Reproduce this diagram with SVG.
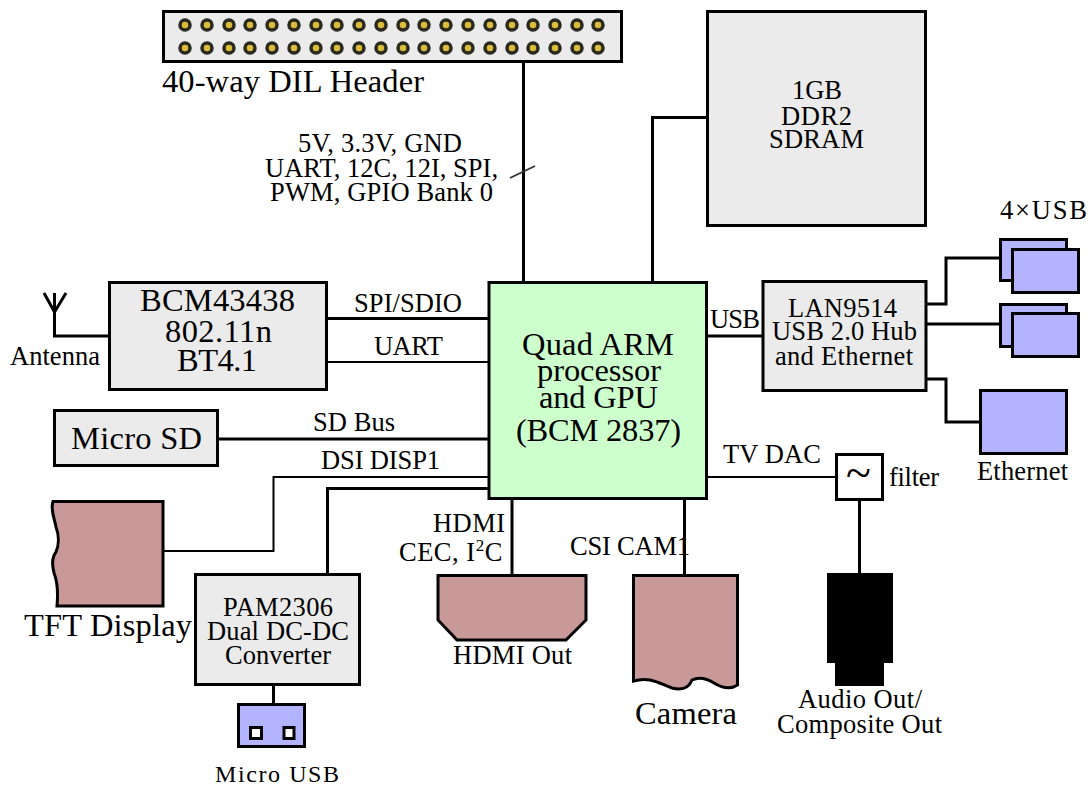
<svg xmlns="http://www.w3.org/2000/svg" width="1091" height="787" viewBox="0 0 1091 787">
<style>
text{font-family:"Liberation Serif","Times New Roman",serif;fill:#000;font-size:26.5px}
.b{font-size:32.5px}
.box{fill:#ebebeb;stroke:#000;stroke-width:3}
.blue{fill:#b3b3ff;stroke:#000;stroke-width:3}
.rose{fill:#c99898;stroke:#000;stroke-width:3}
.main{fill:#ccffcc;stroke:#000;stroke-width:3}
.wire{fill:none;stroke:#000;stroke-width:3}
.thin{fill:none;stroke:#000;stroke-width:2}
.pin{fill:#dcbc3c;stroke:#2a2a20;stroke-width:3.5}
</style>
<defs><circle id="pin" class="pin" r="5"/></defs>
<rect width="1091" height="787" fill="#fff"/>
<g id="connectors">
<path class="wire" d="M523.500 62V281"/>
<path d="M510 178L535 166" fill="none" stroke="#333" stroke-width="1.800"/>
<path class="wire" d="M652.500 281V117.500H708"/>
<path class="wire" d="M328 318.500H488"/>
<path class="thin" d="M328 362H488"/>
<path class="wire" d="M219 439H488"/>
<path class="thin" d="M164 551H273.500V477H488"/>
<path class="wire" d="M327.500 574V488.500H488"/>
<path class="wire" d="M708 336H762"/>
<path class="wire" d="M927 304H946V258H1000"/>
<path class="wire" d="M927 324H1000"/>
<path class="wire" d="M927 379H946V422H980"/>
<path class="thin" d="M708 477H836"/>
<path class="wire" d="M859.500 501V574"/>
<path class="wire" d="M512 500V574"/>
<path class="wire" d="M684.500 500V574"/>
<path class="wire" d="M273.500 686V704"/>
<path class="wire" d="M108 336H54.500V310"/>
</g>
<g id="header">
<rect class="box" x="163.500" y="11.500" width="458" height="50"/>
<g id="pins">
<use href="#pin" x="185" y="25"/><use href="#pin" x="207" y="25"/><use href="#pin" x="229" y="25"/><use href="#pin" x="250" y="25"/><use href="#pin" x="272" y="25"/><use href="#pin" x="294" y="25"/><use href="#pin" x="316" y="25"/><use href="#pin" x="337" y="25"/><use href="#pin" x="359" y="25"/><use href="#pin" x="381" y="25"/><use href="#pin" x="403" y="25"/><use href="#pin" x="424" y="25"/><use href="#pin" x="446" y="25"/><use href="#pin" x="468" y="25"/><use href="#pin" x="490" y="25"/><use href="#pin" x="512" y="25"/><use href="#pin" x="533" y="25"/><use href="#pin" x="555" y="25"/><use href="#pin" x="577" y="25"/><use href="#pin" x="598" y="25"/>
<use href="#pin" x="185" y="48"/><use href="#pin" x="207" y="48"/><use href="#pin" x="229" y="48"/><use href="#pin" x="250" y="48"/><use href="#pin" x="272" y="48"/><use href="#pin" x="294" y="48"/><use href="#pin" x="316" y="48"/><use href="#pin" x="337" y="48"/><use href="#pin" x="359" y="48"/><use href="#pin" x="381" y="48"/><use href="#pin" x="403" y="48"/><use href="#pin" x="424" y="48"/><use href="#pin" x="446" y="48"/><use href="#pin" x="468" y="48"/><use href="#pin" x="490" y="48"/><use href="#pin" x="512" y="48"/><use href="#pin" x="533" y="48"/><use href="#pin" x="555" y="48"/><use href="#pin" x="577" y="48"/><use href="#pin" x="598" y="48"/>
</g>
<text class="b" x="162" y="92" textLength="262">40-way DIL Header</text>
</g>
<g id="labels">
<text x="298" y="152" textLength="164">5V, 3.3V, GND</text>
<text x="265" y="177" textLength="233">UART, 12C, 12I, SPI,</text>
<text x="270" y="201" textLength="223">PWM, GPIO Bank 0</text>
<text x="354" y="312" textLength="108">SPI/SDIO</text>
<text x="374" y="355" textLength="69">UART</text>
<text x="313" y="431" textLength="82">SD Bus</text>
<text x="321" y="469" textLength="119">DSI DISP1</text>
<text x="710" y="328" textLength="50">USB</text>
<text x="723" y="463" textLength="98">TV DAC</text>
<text x="433" y="532" textLength="72">HDMI</text>
<text x="399" y="561" letter-spacing="0.5">CEC, I<tspan font-size="17" dy="-10">2</tspan><tspan dy="10">C</tspan></text>
<text x="570" y="555" textLength="120">CSI CAM1</text>
</g>
<g id="antenna">
<path class="wire" d="M44 293L54.500 312L66 293M54.500 293V312" stroke-width="2"/>
<text x="10" y="365" textLength="90">Antenna</text>
</g>
<g id="bcm43438">
<rect class="box" x="109.500" y="282.500" width="217" height="107"/>
<text class="b" x="140" y="311" textLength="155">BCM43438</text>
<text class="b" x="165" y="342" textLength="107">802.11n</text>
<text class="b" x="177" y="371" textLength="80">BT4.1</text>
</g>
<g id="microsd">
<rect class="box" x="54.500" y="410.500" width="163" height="55"/>
<text class="b" x="71" y="449" textLength="131">Micro SD</text>
</g>
<g id="soc">
<rect class="main" x="489" y="282.500" width="217.500" height="216"/>
<text class="b" x="522" y="355" textLength="152">Quad ARM</text>
<text class="b" x="537" y="381" textLength="124">processor</text>
<text class="b" x="539" y="408" textLength="119">and GPU</text>
<text class="b" x="516" y="441" textLength="165">(BCM 2837)</text>
</g>
<g id="sdram">
<rect class="box" x="707.500" y="11.500" width="218" height="214"/>
<text x="792" y="99" textLength="50">1GB</text>
<text x="781" y="125" textLength="71">DDR2</text>
<text x="769" y="148" textLength="95">SDRAM</text>
</g>
<g id="lan9514">
<rect class="box" x="763" y="281.500" width="163" height="109"/>
<text x="788" y="317" textLength="109">LAN9514</text>
<text x="772" y="340" textLength="145">USB 2.0 Hub</text>
<text x="775" y="365" textLength="138">and Ethernet</text>
</g>
<g id="usb4">
<rect class="blue" x="1000.500" y="239.500" width="66" height="41"/>
<rect class="blue" x="1012.500" y="249.500" width="66" height="43"/>
<rect class="blue" x="1000.500" y="304.500" width="66" height="42"/>
<rect class="blue" x="1012.500" y="313.500" width="66" height="43"/>
<text x="1000" y="219" textLength="87">4×USB</text>
</g>
<g id="ethernet">
<rect class="blue" x="980.500" y="390.500" width="86" height="63"/>
<text x="977" y="480" textLength="91">Ethernet</text>
</g>
<g id="filter">
<rect x="836.500" y="454.500" width="46" height="45" fill="#fff" stroke="#000" stroke-width="3"/>
<text x="846" y="488" font-size="46" style="font-size:46px">~</text>
<text x="889" y="486" textLength="50">filter</text>
</g>
<g id="audio">
<rect x="827" y="573" width="66" height="90" fill="#000"/>
<rect x="835" y="663" width="49" height="23" fill="#000"/>
<text x="798" y="708" textLength="124">Audio Out/</text>
<text x="777" y="733" textLength="165">Composite Out</text>
</g>
<g id="tft">
<path class="rose" d="M163 501.500H53C50 510 55 520 56 527C59 535 59 545 56 552C52 557 52 565 54 573C58 583 58 595 57 606H163Z"/>
<text class="b" x="24" y="636" textLength="168">TFT Display</text>
</g>
<g id="pam2306">
<rect class="box" x="195.500" y="574.500" width="164" height="110"/>
<text x="223" y="616" textLength="110">PAM2306</text>
<text x="207" y="640" textLength="142">Dual DC-DC</text>
<text x="225" y="664" textLength="106">Converter</text>
</g>
<g id="microusb">
<rect class="blue" x="238.500" y="704.500" width="66" height="42"/>
<rect x="250.500" y="727.500" width="11" height="11" fill="#fff" stroke="#000" stroke-width="3"/>
<rect x="284" y="727.500" width="10" height="11" fill="#fff" stroke="#000" stroke-width="3"/>
<text x="215" y="782" textLength="124" style="font-size:24px">Micro USB</text>
</g>
<g id="hdmi">
<path class="rose" d="M438 575.500H586V620L566 640H457L438 620Z"/>
<text x="453" y="664" textLength="119">HDMI Out</text>
</g>
<g id="camera">
<path class="rose" d="M633.500 575.500H737.500V685C730 690 722 688 714 683C706 678 698 677 692 680C688 690 680 690 672 688C660 684 650 676 633.500 681Z"/>
<text class="b" x="635" y="724" textLength="102">Camera</text>
</g>
</svg>
